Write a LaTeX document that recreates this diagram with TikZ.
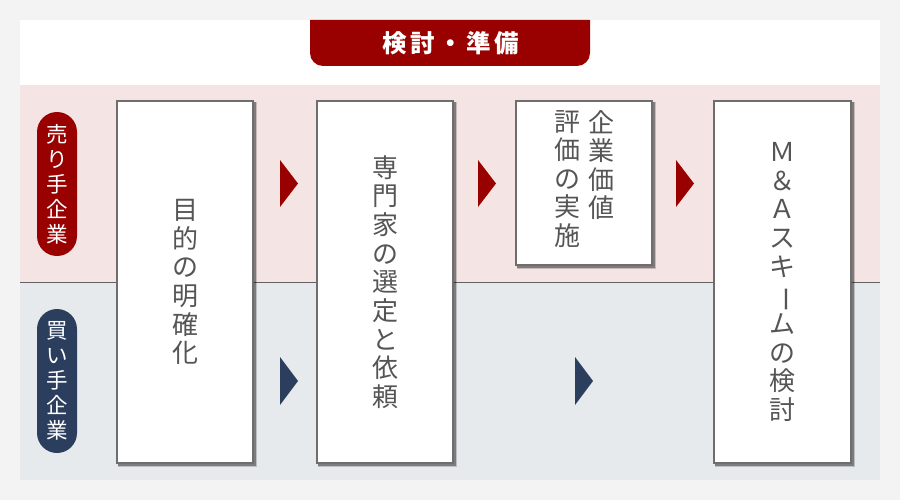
\documentclass[tikz,border=0pt]{standalone}
\usepackage{fontspec}
\setmainfont{Noto Sans CJK JP}
\usetikzlibrary{shapes.geometric}
\definecolor{bgout}{HTML}{F3F3F3}
\definecolor{pinkband}{HTML}{F5E4E4}
\definecolor{greyband}{HTML}{E7EAED}
\definecolor{darkred}{HTML}{990000}
\definecolor{navy}{HTML}{2C3E5E}
\definecolor{txtgrey}{HTML}{555555}
\definecolor{edgegrey}{HTML}{6E6E6E}
\tikzset{
  stepbox/.style={draw=edgegrey, line width=1.1pt, fill=white, inner sep=0pt,
    minimum width=136pt, text=txtgrey, align=center,
    font=\fontsize{26}{28.7}\selectfont},
  vtext/.style={inner sep=0pt, text=txtgrey, align=center,
    font=\fontsize{26}{28.5}\selectfont},
  pill/.style={rounded corners=20pt, minimum width=40pt, minimum height=144pt,
    inner sep=0pt, text=white, align=center, font=\fontsize{21.5}{25}\selectfont},
  tri/.style={},
}
\newcommand\boxshadow[4]{%
  \fill[black, opacity=0.18] (#1+1,#2+1) rectangle (#3+4,#4+4);
  \fill[black, opacity=0.35] (#1+1,#2+1) rectangle (#3+2.5,#4+2.5);
}
\begin{document}
\begin{tikzpicture}[x=1pt,y=-1pt]
\useasboundingbox (0,0) rectangle (900,500);
\fill[bgout] (0,0) rectangle (900,500);
% bands
\fill[white] (20,20) rectangle (880,85);
\fill[pinkband] (20,85) rectangle (880,282);
\fill[greyband] (20,282) rectangle (880,480);
\draw[edgegrey!90!black, line width=1pt] (20,282) -- (880,282);
% banner
\fill[darkred] (310,20) [rounded corners=13pt] -- (310,66) -- (590,66) [sharp corners] -- (590,20) -- cycle;
\node[text=white, font=\fontsize{24.5}{26}\selectfont\bfseries\addfontfeature{LetterSpace=14}] (banner) at (451,43) {検討・準備};
% pills
\node[pill, fill=darkred] (seller) at (57,184) {売\\り\\手\\企\\業};
\node[pill, fill=navy] (buyer) at (57,381) {買\\い\\手\\企\\業};
% shadows
\boxshadow{117}{101}{253}{463}
\boxshadow{317}{101}{453}{463}
\boxshadow{516}{101}{652}{265}
\boxshadow{714}{101}{851}{463}
% boxes
\node[stepbox, minimum height=362pt] (b1) at (185,282) {目\\的\\の\\明\\確\\化};
\node[stepbox, minimum height=362pt] (b2) at (385,282) {専\\門\\家\\の\\選\\定\\と\\依\\頼};
\node[stepbox, minimum height=164pt] (b3) at (584,183) {};
\node[vtext, anchor=north] (b3r) at (601,110) {企\\業\\価\\値};
\node[vtext, anchor=north] (b3l) at (567,110) {評\\価\\の\\実\\施};
\node[stepbox, minimum width=137pt, minimum height=362pt] (b4) at (782.5,282)
  {Ｍ\\＆\\Ａ\\ス\\キ\\\rotatebox[origin=c]{-90}{ー}\\ム\\の\\検\\討};
% arrows
\fill[darkred] (280,160) -- (298,183.5) -- (280,207) -- cycle;
\fill[darkred] (478,160) -- (496,183.5) -- (478,207) -- cycle;
\fill[darkred] (676,160) -- (694,183.5) -- (676,207) -- cycle;
\fill[navy] (280,357) -- (298,381) -- (280,405) -- cycle;
\fill[navy] (575,357) -- (593,381) -- (575,405) -- cycle;
\end{tikzpicture}
\end{document}
